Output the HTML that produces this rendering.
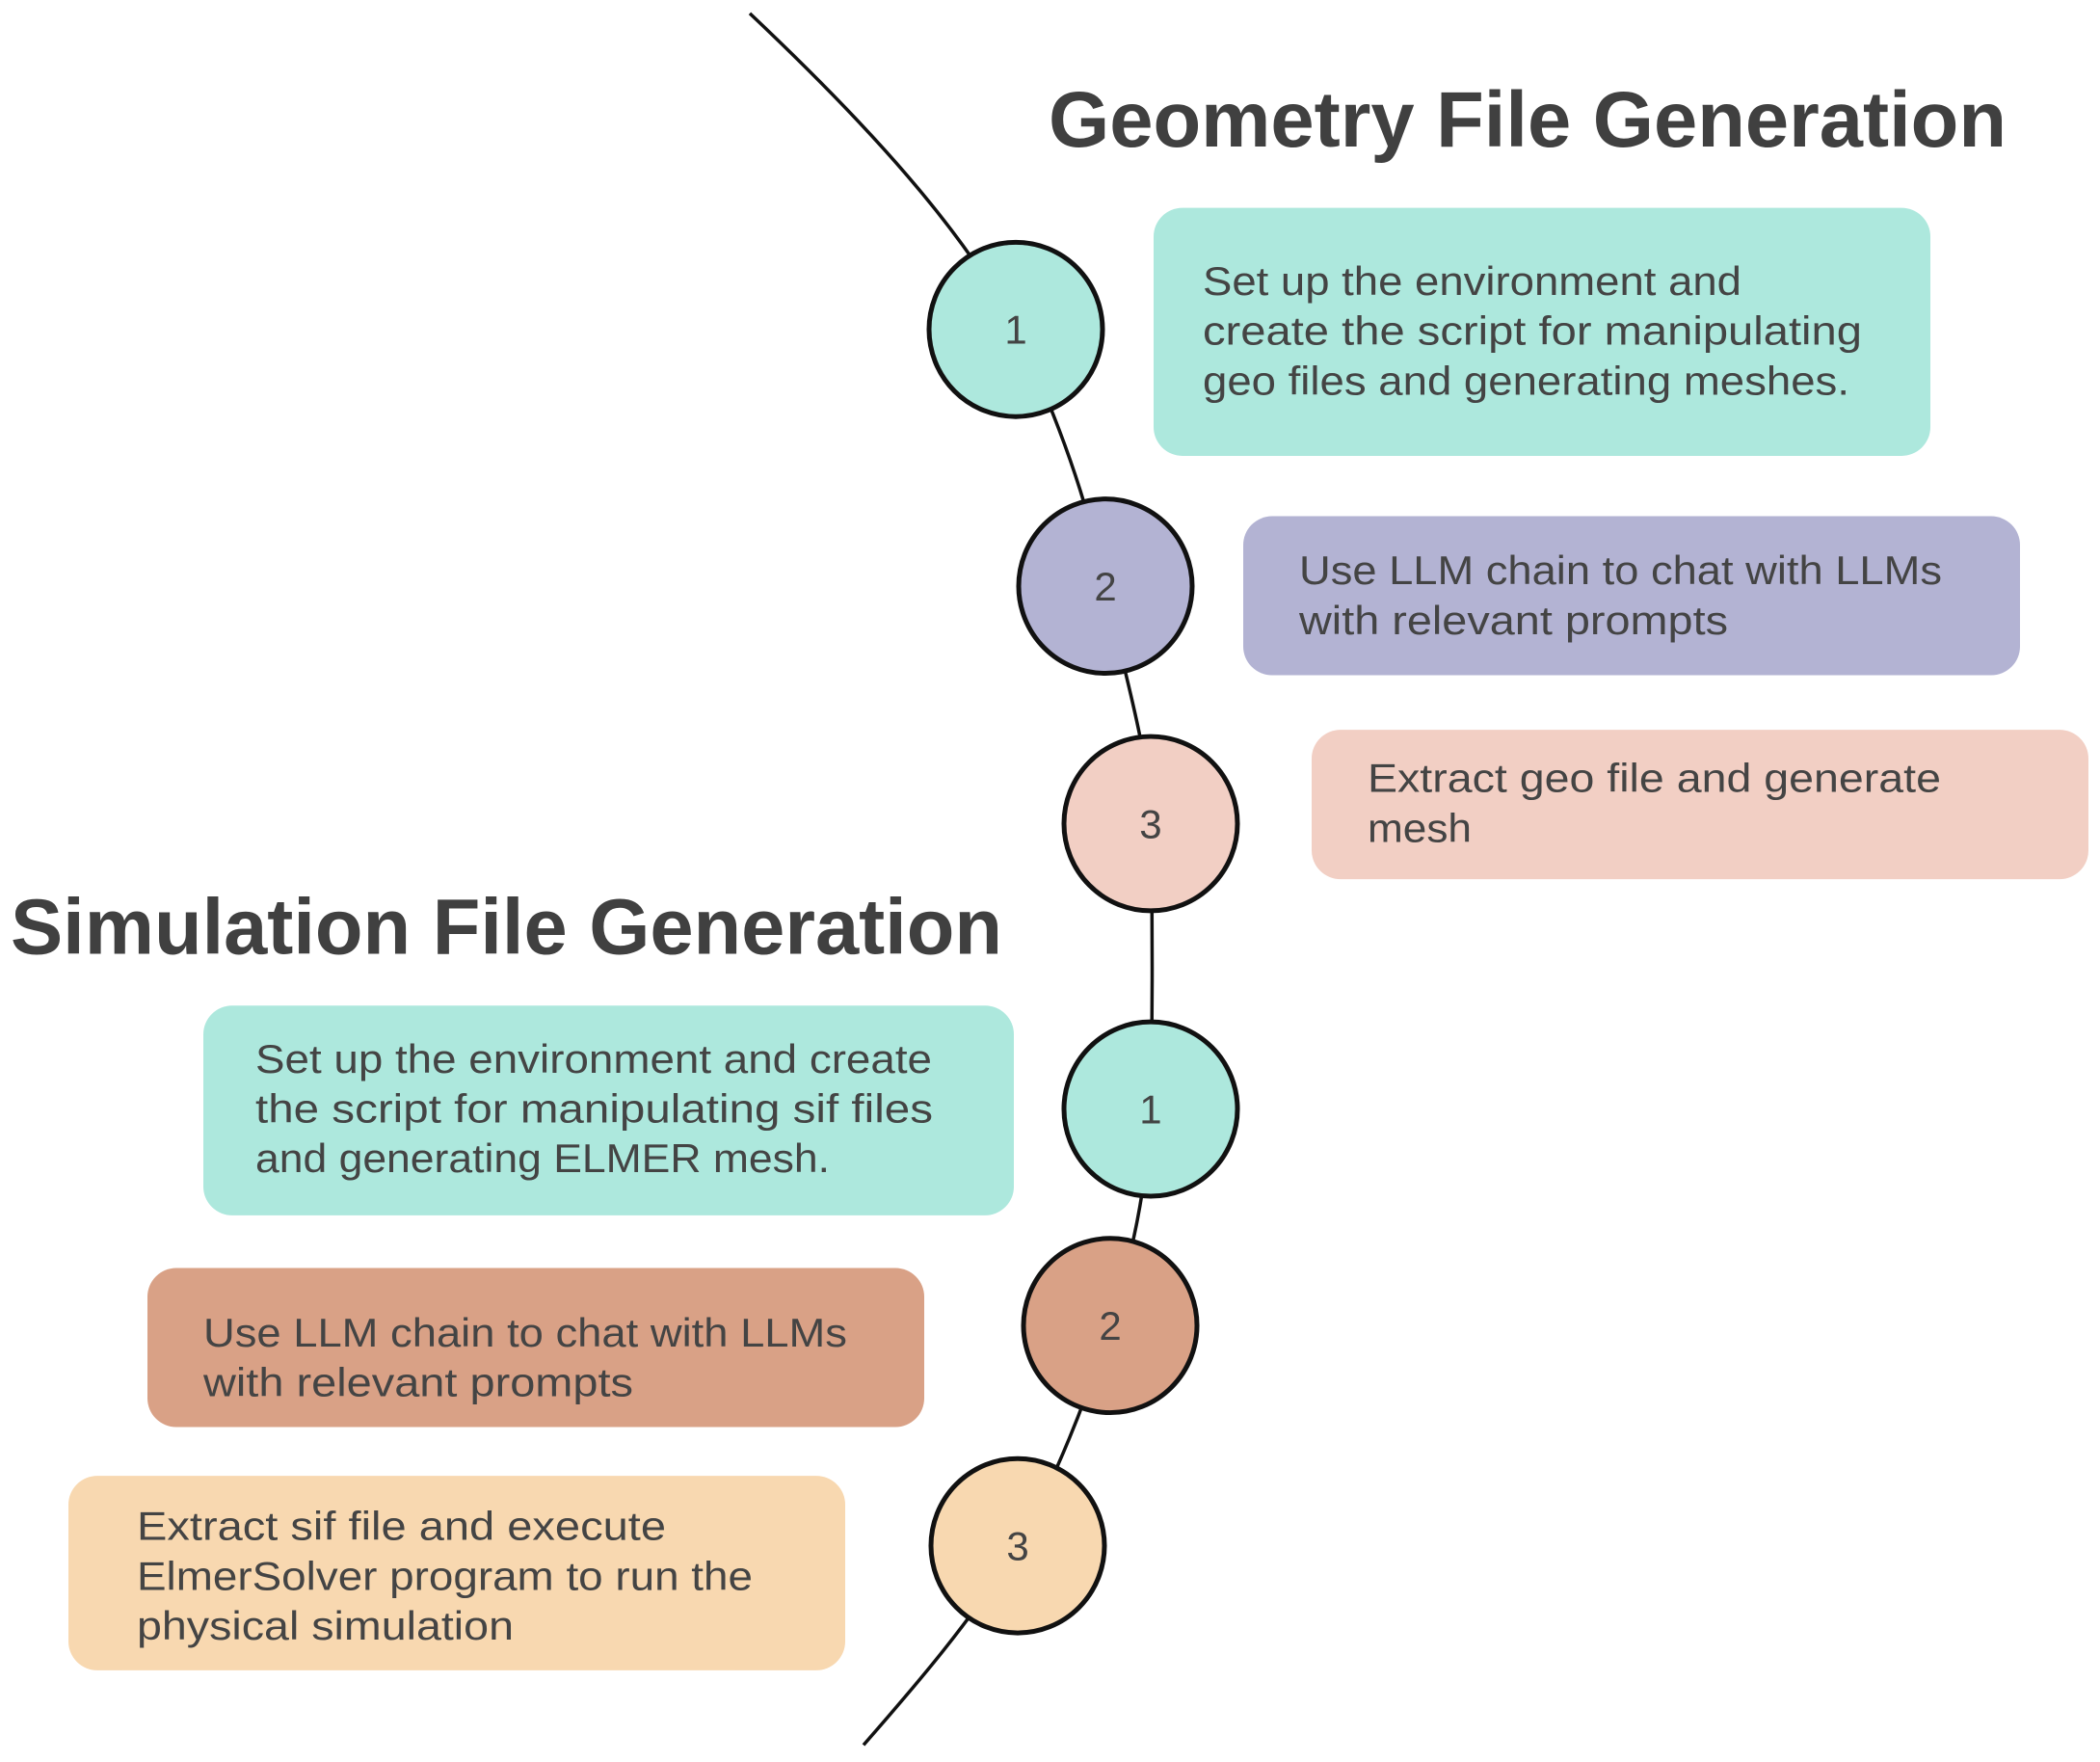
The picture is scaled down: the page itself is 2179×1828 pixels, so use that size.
<!DOCTYPE html>
<html><head><meta charset="utf-8"><style>html,body{margin:0;padding:0;background:#fff}svg{display:block}</style></head>
<body>
<svg width="2179" height="1828" viewBox="0 0 2179 1828" xmlns="http://www.w3.org/2000/svg">
<g transform="scale(1,0.9936)">
<path d="M778,14 C900,130 1000,240 1054,344 C1100,440 1130,530 1147,612 C1165,700 1192,780 1194,860 C1196,960 1196,1060 1194,1158 C1190,1240 1175,1310 1152,1384 C1128,1460 1095,1545 1056,1614 C1010,1690 950,1760 896,1822" fill="none" stroke="#111" stroke-width="3.5"/>
<g font-family="Liberation Sans, sans-serif" fill="#404040">
<text x="1088" y="153" font-size="82" font-weight="bold" textLength="994" lengthAdjust="spacingAndGlyphs">Geometry File Generation</text>
<text x="11" y="996" font-size="82" font-weight="bold" textLength="1029" lengthAdjust="spacingAndGlyphs">Simulation File Generation</text>
</g>
<g>
<rect x="1197" y="217" width="806" height="259" rx="30" fill="#ade8dd"/>
<rect x="1290" y="539" width="806" height="166" rx="30" fill="#b3b3d3"/>
<rect x="1361" y="762" width="806" height="156" rx="30" fill="#f2cfc4"/>
<rect x="211" y="1050" width="841" height="219" rx="30" fill="#ade8dd"/>
<rect x="153" y="1324" width="806" height="166" rx="30" fill="#d9a186"/>
<rect x="71" y="1541" width="806" height="203" rx="30" fill="#f8d8b0"/>
</g>
<g font-family="Liberation Sans, sans-serif" font-size="42" fill="#444">
<text x="1248" y="308" textLength="559" lengthAdjust="spacingAndGlyphs">Set up the environment and</text>
<text x="1248" y="360" textLength="684" lengthAdjust="spacingAndGlyphs">create the script for manipulating</text>
<text x="1248" y="412" textLength="671" lengthAdjust="spacingAndGlyphs">geo files and generating meshes.</text>
<text x="1348" y="610" textLength="667" lengthAdjust="spacingAndGlyphs">Use LLM chain to chat with LLMs</text>
<text x="1348" y="662" textLength="445" lengthAdjust="spacingAndGlyphs">with relevant prompts</text>
<text x="1419" y="827" textLength="595" lengthAdjust="spacingAndGlyphs">Extract geo file and generate</text>
<text x="1419" y="879" textLength="108" lengthAdjust="spacingAndGlyphs">mesh</text>
<text x="265" y="1120" textLength="702" lengthAdjust="spacingAndGlyphs">Set up the environment and create</text>
<text x="265" y="1172" textLength="703" lengthAdjust="spacingAndGlyphs">the script for manipulating sif files</text>
<text x="265" y="1224" textLength="596" lengthAdjust="spacingAndGlyphs">and generating ELMER mesh.</text>
<text x="211" y="1406" textLength="668" lengthAdjust="spacingAndGlyphs">Use LLM chain to chat with LLMs</text>
<text x="211" y="1458" textLength="446" lengthAdjust="spacingAndGlyphs">with relevant prompts</text>
<text x="142" y="1608" textLength="549" lengthAdjust="spacingAndGlyphs">Extract sif file and execute</text>
<text x="142" y="1660" textLength="639" lengthAdjust="spacingAndGlyphs">ElmerSolver program to run the</text>
<text x="142" y="1712" textLength="391" lengthAdjust="spacingAndGlyphs">physical simulation</text>
</g>
<g stroke="#111" stroke-width="5">
<ellipse cx="1054" cy="344" rx="90" ry="91" fill="#ade8dd"/>
<ellipse cx="1147" cy="612" rx="90" ry="91" fill="#b3b3d3"/>
<ellipse cx="1194" cy="860" rx="90" ry="91" fill="#f2cfc4"/>
<ellipse cx="1194" cy="1158" rx="90" ry="91" fill="#ade8dd"/>
<ellipse cx="1152" cy="1384" rx="90" ry="91" fill="#d9a186"/>
<ellipse cx="1056" cy="1614" rx="90" ry="91" fill="#f8d8b0"/>
</g>
<g font-family="Liberation Sans, sans-serif" font-size="42" fill="#444" text-anchor="middle">
<text x="1054" y="359">1</text>
<text x="1147" y="627">2</text>
<text x="1194" y="875">3</text>
<text x="1194" y="1173">1</text>
<text x="1152" y="1399">2</text>
<text x="1056" y="1629">3</text>
</g>
</g>
</svg>
</body></html>
